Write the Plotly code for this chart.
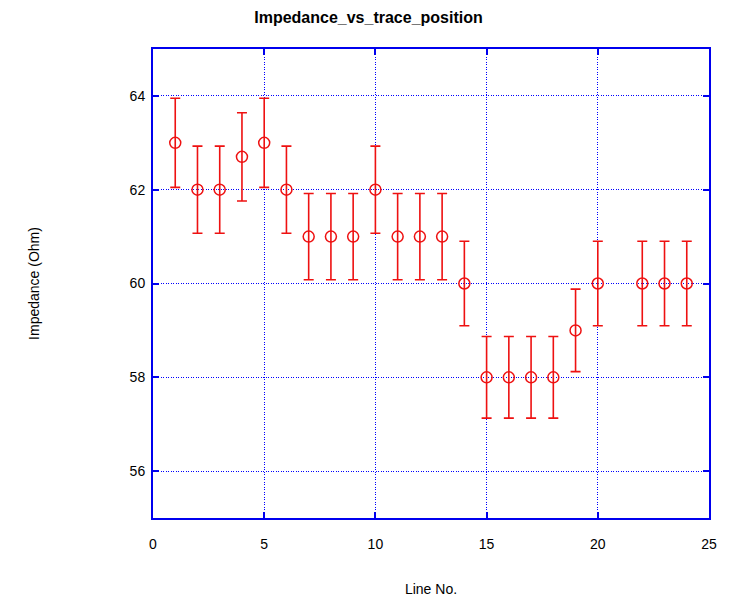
import plotly.graph_objects as go

line_no = [1, 2, 3, 4, 5, 6, 7, 8, 9, 10, 11, 12, 13, 14, 15, 16, 17, 18, 19, 20, 22, 23, 24]
impedance = [63, 62, 62, 62.7, 63, 62, 61, 61, 61, 62, 61, 61, 61, 60, 58, 58, 58, 58, 59, 60, 60, 60, 60]
error = [0.95, 0.93, 0.93, 0.94, 0.95, 0.93, 0.92, 0.92, 0.92, 0.93, 0.92, 0.92, 0.92,
         0.9, 0.87, 0.87, 0.87, 0.87, 0.88, 0.9, 0.9, 0.9, 0.9]

x_ticks = [0, 5, 10, 15, 20, 25]
y_ticks = [56, 58, 60, 62, 64]

fig = go.Figure()
fig.add_trace(go.Scatter(
    x=line_no, y=impedance, mode="markers",
    marker=dict(symbol="circle-open", size=11, color="#ee1111", line=dict(width=1.5)),
    error_y=dict(type="data", array=error, visible=True, color="#ee1111", thickness=1.6, width=5),
    showlegend=False,
))

axis_common = dict(
    showline=True, linecolor="#0000ee", linewidth=2, mirror="ticks",
    ticks="inside", ticklen=6, tickcolor="#0000ee", tickwidth=2,
    showgrid=True, gridcolor="#0000ff", griddash="1px,1.5px", gridwidth=1.2,
    zeroline=False, automargin=False,
    tickfont=dict(family="Liberation Sans Narrow, Arial Narrow, Liberation Sans", size=14, color="black"),
)

fig.update_xaxes(range=[0, 25], tickvals=x_ticks, ticktext=[str(v) for v in x_ticks], ticklabelstandoff=12,
                 title=dict(text="Line No.", font=dict(family="Liberation Sans Narrow, Liberation Sans", size=14, color="black"), standoff=33),
                 **axis_common)
fig.update_yaxes(range=[55, 65], tickvals=y_ticks, ticktext=[str(v) for v in y_ticks], ticklabelstandoff=3,
                 title=dict(text="Impedance (Ohm)", font=dict(family="Liberation Sans Narrow, Liberation Sans", size=14, color="black"), standoff=87),
                 **axis_common)

fig.update_layout(
    width=721, height=590,
    margin=dict(l=145, r=20, t=41, b=80),
    paper_bgcolor="white", plot_bgcolor="white",
    title=dict(text="<b>Impedance_vs_trace_position</b>", x=0.5, xanchor="center", y=1 - 9 / 590, yanchor="middle",
               font=dict(family="Liberation Sans", size=16, color="black")),
)

fig.write_html("out.html")
